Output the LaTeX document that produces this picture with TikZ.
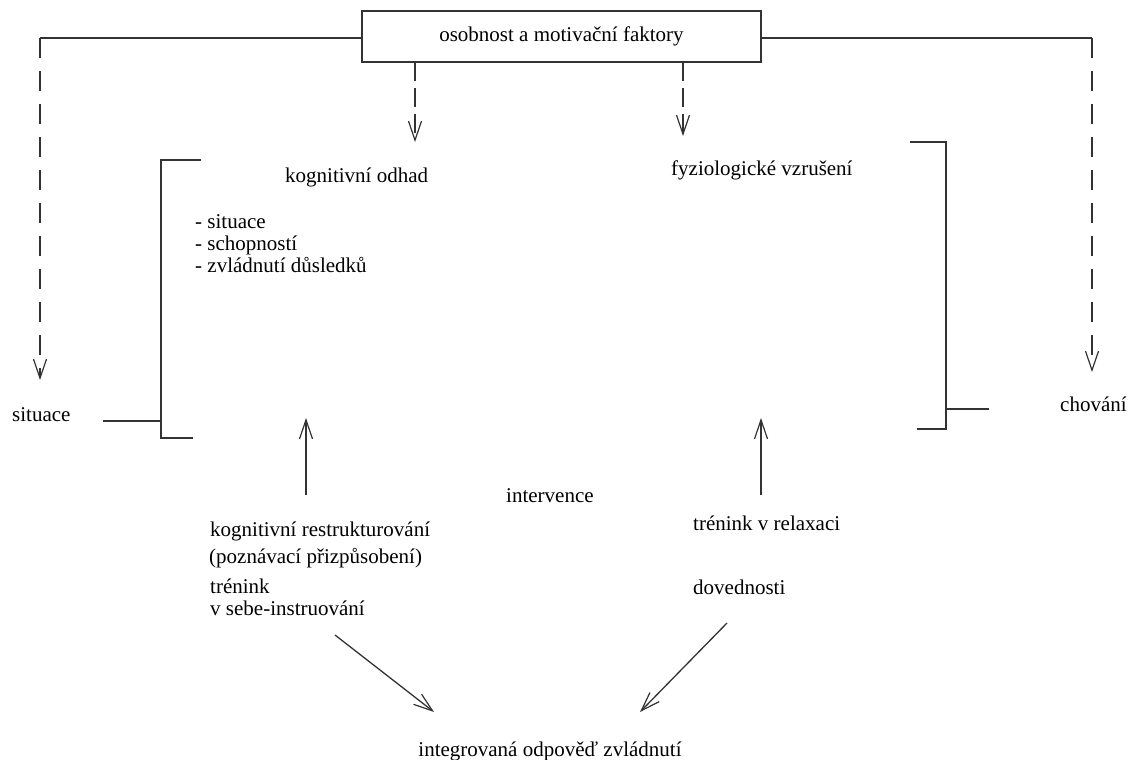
\documentclass[tikz,border=0pt]{standalone}
\usepackage{fontspec}
\setmainfont{Liberation Serif}
\usetikzlibrary{arrows.meta}
\begin{document}
\begin{tikzpicture}[x=1pt,y=-1pt,
  txt/.style={font=\fontsize{21}{25}\selectfont, inner sep=0pt, anchor=base west},
  ln/.style={draw=black!80, line width=1.3pt},
  arr/.style={ln, -{Straight Barb[length=19pt,width=13pt,line width=1.2pt]}},
  longdash/.style={dash pattern=on 20pt off 13pt},
  shortdash/.style={dash pattern=on 19pt off 7pt}]
\useasboundingbox[fill=white] (0,0) rectangle (1135,760);

% top box
\node[draw=black!80, line width=1.3pt, minimum width=399pt, minimum height=51pt,
      inner sep=0pt, font=\fontsize{21}{25}\selectfont] (box) at (561.5,36.5) {osobnost a motivační faktory};

% texts
\node[txt] (kog) at (285,182) {kognitivní odhad};
\node[txt] (l1) at (195,228) {- situace};
\node[txt] (l2) at (195,250) {- schopností};
\node[txt] (l3) at (195,272) {- zvládnutí důsledků};
\node[txt] (fyz) at (671,175) {fyziologické vzrušení};
\node[txt] (sit) at (12,421) {situace};
\node[txt] (cho) at (1060,411) {chování};
\node[txt] (int) at (506,502) {intervence};
\node[txt] (kr1) at (210,536) {kognitivní restrukturování};
\node[txt] (kr2) at (209,563) {(poznávací přizpůsobení)};
\node[txt] (tr1) at (210,593) {trénink};
\node[txt] (tr2) at (210,615) {v sebe-instruování};
\node[txt] (rel) at (693,530) {trénink v relaxaci};
\node[txt] (dov) at (693,594) {dovednosti};
\node[font=\fontsize{21}{25}\selectfont, inner sep=0pt, anchor=base] (ioz) at (550,756) {integrovaná odpověď zvládnutí};

% coordinates
\coordinate (cl) at (40,38);
\coordinate (clt) at (40,380);
\coordinate (cr) at (1092,38);
\coordinate (crt) at (1092,372);
\coordinate (bl) at (415,62);
\coordinate (blt) at (415,142);
\coordinate (br) at (683,62);
\coordinate (brt) at (683,136);

% lines from box to the sides
\draw[ln] (box.west |- cl) -- (cl);
\draw[arr, longdash] (cl) -- (clt);
\draw[ln] (box.east |- cr) -- (cr);
\draw[arr, longdash] (cr) -- (crt);

% dashed arrows down from box
\draw[arr, shortdash] (bl) -- (blt);
\draw[arr, shortdash] (br) -- (brt);

% left bracket
\coordinate (lb1) at (201,160);
\coordinate (lb2) at (161,160);
\coordinate (lb3) at (161,438);
\coordinate (lb4) at (193,438);
\coordinate (lbs) at (161,421);
\coordinate (lbe) at (103,421);
\draw[ln] (lb1) -- (lb2) -- (lb3) -- (lb4);
\draw[ln] (lbe) -- (lbs);

% right bracket
\coordinate (rb1) at (910,142);
\coordinate (rb2) at (946,142);
\coordinate (rb3) at (946,429);
\coordinate (rb4) at (917,429);
\coordinate (rbs) at (946,409);
\coordinate (rbe) at (989,409);
\draw[ln] (rb1) -- (rb2) -- (rb3) -- (rb4);
\draw[ln] (rbs) -- (rbe);

% up arrows
\coordinate (ua1) at (306,495);
\coordinate (ua1t) at (306,418);
\coordinate (ua2) at (761,495);
\coordinate (ua2t) at (761,418);
\draw[arr] (ua1) -- (ua1t);
\draw[arr] (ua2) -- (ua2t);

% diagonal arrows
\coordinate (d1) at (335,635);
\coordinate (d1t) at (434,712);
\coordinate (d2) at (727,623);
\coordinate (d2t) at (640,712);
\draw[arr] (d1) -- (d1t);
\draw[arr] (d2) -- (d2t);
\end{tikzpicture}
\end{document}
